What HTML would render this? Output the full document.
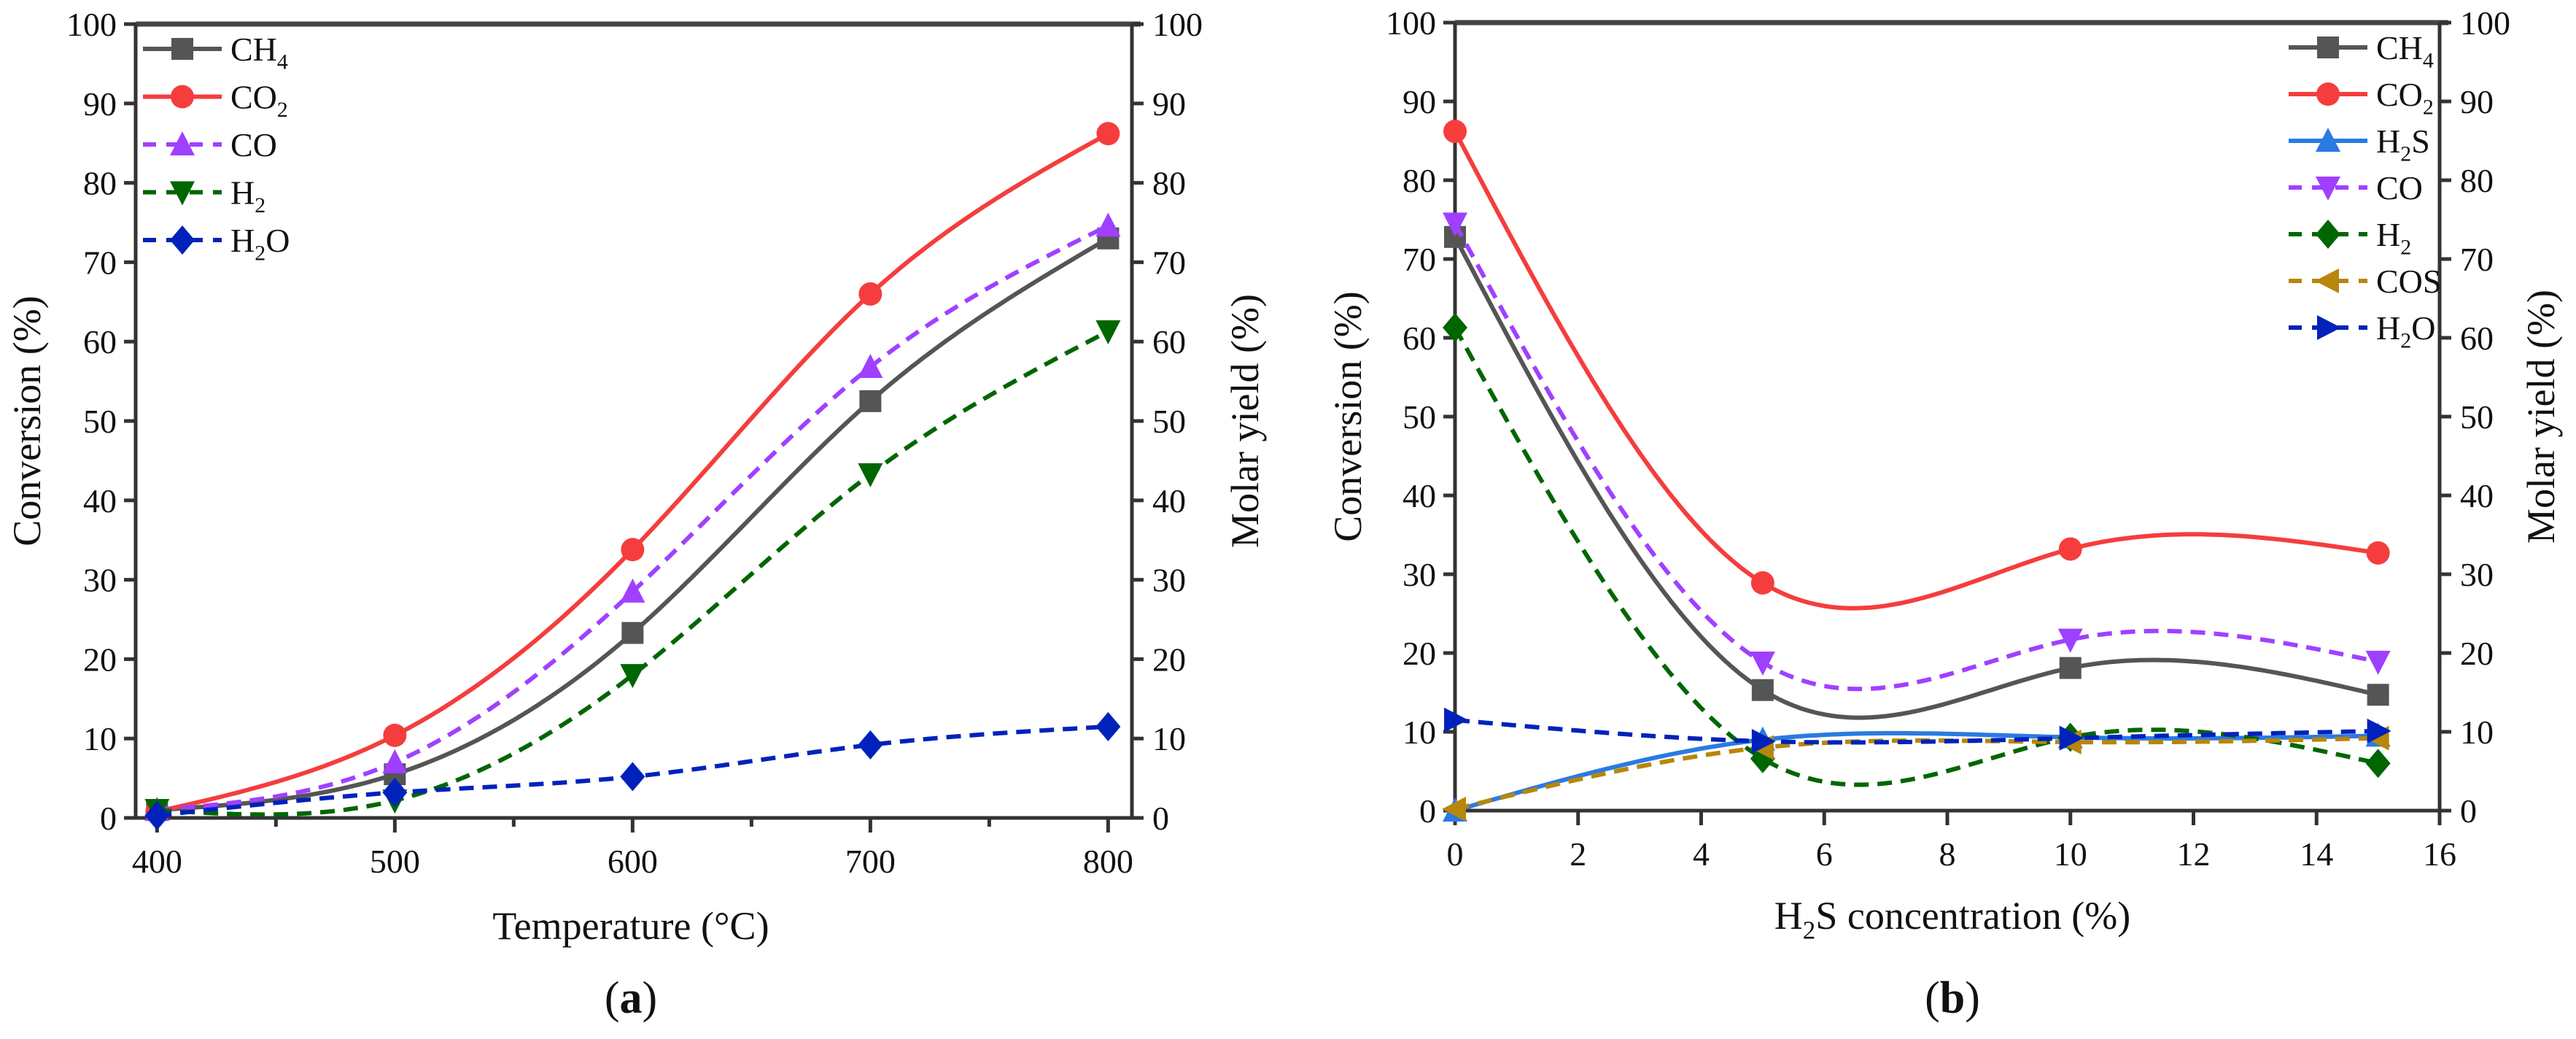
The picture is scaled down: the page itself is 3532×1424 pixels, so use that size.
<!DOCTYPE html>
<html><head><meta charset="utf-8"><style>
html,body{margin:0;padding:0;background:#fff;}
svg{display:block;font-family:"Liberation Serif",serif;}
svg text{font-family:"Liberation Serif",serif;}
</style></head><body>
<svg id="fig" width="3532" height="1424" viewBox="0 0 3532 1424" xmlns="http://www.w3.org/2000/svg" font-family="Liberation Serif, serif"></svg>
<script>
// ---- Panel (a) data ----
const aTemps = [400, 500, 600, 700, 800];
const aCH4 = [1, 5.5, 23.3, 52.5, 73];
const aCO2 = [0.8, 10.4, 33.8, 66, 86.2];
const aCO = [1, 7, 28.5, 56.8, 74.6];
const aH2 = [1, 2.2, 18, 43.3, 61.3];
const aH2O = [0.3, 3.2, 5.2, 9.2, 11.5];
const aXTicks = [400, 500, 600, 700, 800];
const yTicks = [0, 10, 20, 30, 40, 50, 60, 70, 80, 90, 100];
// ---- Panel (b) data ----
const bConc = [0, 5, 10, 15];
const bCH4 = [72.8, 15.3, 18.1, 14.7];
const bCO2 = [86.2, 28.9, 33.2, 32.7];
const bH2S = [0, 9, 9.3, 9.5];
const bCO = [74.5, 18.8, 21.7, 18.9];
const bH2 = [61.3, 6.6, 9.3, 6];
const bCOS = [0.2, 8, 8.7, 9.2];
const bH2O = [11.5, 8.8, 9.2, 10.1];
const bXTicks = [0, 2, 4, 6, 8, 10, 12, 14, 16];

const NS = "http://www.w3.org/2000/svg";
const svg = document.getElementById('fig');
function mk(tag, attrs, parent) {
  const e = document.createElementNS(NS, tag);
  for (const k in attrs) e.setAttribute(k, attrs[k]);
  (parent || svg).appendChild(e);
  return e;
}
function spline(xs, ys) {
  const n = xs.length, h = [], al = [], l = [1], mu = [0], z = [0], c = new Array(n).fill(0), b = [], d = [];
  for (let i = 0; i < n - 1; i++) h.push(xs[i+1] - xs[i]);
  for (let i = 1; i < n - 1; i++) al[i] = 3/h[i]*(ys[i+1]-ys[i]) - 3/h[i-1]*(ys[i]-ys[i-1]);
  for (let i = 1; i < n - 1; i++) { l[i] = 2*(xs[i+1]-xs[i-1]) - h[i-1]*mu[i-1]; mu[i] = h[i]/l[i]; z[i] = (al[i]-h[i-1]*z[i-1])/l[i]; }
  for (let j = n - 2; j >= 0; j--) { c[j] = (j > 0 ? z[j] : 0) - mu[j]*c[j+1]; if (j===0) c[0]=0; b[j] = (ys[j+1]-ys[j])/h[j] - h[j]*(c[j+1]+2*c[j])/3; d[j] = (c[j+1]-c[j])/(3*h[j]); }
  const pts = [];
  for (let i = 0; i < n - 1; i++) for (let k = 0; k <= 40; k++) { const t = h[i]*k/40; pts.push([xs[i]+t, ys[i]+b[i]*t+c[i]*t*t+d[i]*t*t*t]); }
  return pts;
}
function marker(shape, x, y, color, g) {
  const s = 15;
  let e;
  if (shape === 'sq') e = mk('rect', {x: x-s, y: y-s, width: 2*s, height: 2*s, fill: color}, g);
  else if (shape === 'ci') e = mk('circle', {cx: x, cy: y, r: s+1, fill: color}, g);
  else if (shape === 'up') e = mk('polygon', {points: `${x},${y-s-3} ${x+s+2},${y+s} ${x-s-2},${y+s}`, fill: color}, g);
  else if (shape === 'dn') e = mk('polygon', {points: `${x},${y+s+3} ${x+s+2},${y-s} ${x-s-2},${y-s}`, fill: color}, g);
  else if (shape === 'di') e = mk('polygon', {points: `${x},${y-s-5} ${x+s+2},${y} ${x},${y+s+5} ${x-s-2},${y}`, fill: color}, g);
  else if (shape === 'lt') e = mk('polygon', {points: `${x-s-3},${y} ${x+s},${y-s-2} ${x+s},${y+s+2}`, fill: color}, g);
  else if (shape === 'rt') e = mk('polygon', {points: `${x+s+3},${y} ${x-s},${y-s-2} ${x-s},${y+s+2}`, fill: color}, g);
  
  
}
function label(parent, x, y, base, sub, rest, size, anchor) {
  const t = mk('text', {x: x, y: y, 'font-size': size, fill: '#111', 'text-anchor': anchor || 'start'}, parent);
  t.appendChild(document.createTextNode(base));
  if (sub) {
    const ts = mk('tspan', {'font-size': size*0.65, dy: size*0.25}, t); ts.textContent = sub;
    if (rest) { const tr = mk('tspan', {'font-size': size, dy: -size*0.25}, t); tr.textContent = rest; }
  }
  return t;
}
function panel(cfg) {
  const g = mk('g', {});
  
  
  const {L, R, T, B, xmin, xmax} = cfg;
  const X = v => L + (v - xmin) / (xmax - xmin) * (R - L);
  const Y = v => B - v / 100 * (B - T);
  const ax = mk('g', {stroke: '#333', 'stroke-width': 5, fill: 'none'}, g);
  
  
  mk('line', {x1: L, y1: T, x2: R + 12, y2: T, stroke: '#444', 'stroke-width': 7}, ax);
  mk('line', {x1: L - 16, y1: B, x2: R + 12, y2: B}, ax);
  mk('line', {x1: L, y1: T, x2: L, y2: B}, ax);
  mk('line', {x1: R, y1: T, x2: R, y2: B}, ax);
  yTicks.forEach(v => {
    mk('line', {x1: L - 16, y1: Y(v), x2: L, y2: Y(v)}, ax);
    mk('line', {x1: R, y1: Y(v), x2: R + 16, y2: Y(v)}, ax);
    const tl = mk('text', {x: L - 26, y: Y(v) + 16, 'font-size': 46, 'text-anchor': 'end', fill: '#111'}, g);
    tl.textContent = v;
    
    const tr = mk('text', {x: R + 28, y: Y(v) + 16, 'font-size': 46, fill: '#111'}, g);
    tr.textContent = v;
    
  });
  cfg.xticks.forEach(v => {
    mk('line', {x1: X(v), y1: B, x2: X(v), y2: B + 20}, ax);
    const t = mk('text', {x: X(v), y: B + 75, 'font-size': 46, 'text-anchor': 'middle', fill: '#111'}, g);
    t.textContent = v;
    
  });
  (cfg.minor || []).forEach(v => mk('line', {x1: X(v), y1: B, x2: X(v), y2: B + 12}, ax));
  cfg.series.forEach(s => {
    const sg = mk('g', {}, g);
    
    
    const pts = spline(cfg.xs, s.ys).map(p => X(p[0]).toFixed(1) + ',' + Y(p[1]).toFixed(1)).join(' ');
    const pl = mk('polyline', {points: pts, fill: 'none', stroke: s.color, 'stroke-width': 6, 'stroke-dasharray': s.dash ? '20,12' : 'none'}, sg);
    
    
    cfg.xs.forEach((xv, i) => marker(s.mk, X(xv), Y(s.ys[i]), s.color, sg));
  });
  const lg = mk('g', {}, g);
  
  
  cfg.series.forEach((s, i) => {
    const y = cfg.legY + i * cfg.legDy;
    const e = mk('g', {}, lg);
    
    
    mk('line', {x1: cfg.legX, y1: y, x2: cfg.legX + 108, y2: y, stroke: s.color, 'stroke-width': 6, 'stroke-dasharray': s.dash ? '18,14' : 'none'}, e);
    marker(s.mk, cfg.legX + 54, y, s.color, e);
    label(e, cfg.legX + 120, y + 16, s.lab[0], s.lab[1], s.lab[2], 46);
  });
  const xt = cfg.xtitle(g);
  
  const yl = mk('text', {x: 0, y: 0, 'font-size': 54, 'text-anchor': 'middle', fill: '#111', transform: `translate(${cfg.ylx},${(T+B)/2}) rotate(-90)`}, g);
  yl.textContent = 'Conversion (%)';
  
  const yr = mk('text', {x: 0, y: 0, 'font-size': 54, 'text-anchor': 'middle', fill: '#111', transform: `translate(${cfg.yrx},${(T+B)/2}) rotate(-90)`}, g);
  yr.textContent = 'Molar yield (%)';
  
  const pl = mk('text', {x: cfg.capX, y: 1388, 'font-size': 62, 'text-anchor': 'middle', fill: '#111'}, g);
  pl.appendChild(document.createTextNode('('));
  const bb = mk('tspan', {'font-weight': 'bold'}, pl); bb.textContent = cfg.cap;
  pl.appendChild(document.createTextNode(')'));
  
}
panel({name: 'panel-a', cap: 'a', L: 186, R: 1552, T: 33, B: 1121, xmin: 391, xmax: 810, xs: aTemps, xticks: aXTicks,
  minor: [450, 550, 650, 750], legX: 196, legY: 67, legDy: 65.5, ylx: 55, yrx: 1725, capX: 865,
  xtitle: g => { const t = mk('text', {x: 865, y: 1287, 'font-size': 54, 'text-anchor': 'middle', fill: '#111'}, g); t.textContent = 'Temperature (°C)'; return t; },
  series: [
    {id: 'ch4', ys: aCH4, color: '#555555', mk: 'sq', dash: false, lab: ['CH', '4']},
    {id: 'co2', ys: aCO2, color: '#f53d3d', mk: 'ci', dash: false, lab: ['CO', '2']},
    {id: 'co', ys: aCO, color: '#a040ff', mk: 'up', dash: true, lab: ['CO']},
    {id: 'h2', ys: aH2, color: '#006600', mk: 'dn', dash: true, lab: ['H', '2']},
    {id: 'h2o', ys: aH2O, color: '#0022bb', mk: 'di', dash: true, lab: ['H', '2', 'O']}
  ]});
panel({name: 'panel-b', cap: 'b', L: 1995, R: 3345, T: 31, B: 1111, xmin: 0, xmax: 16, xs: bConc, xticks: bXTicks,
  legX: 3138, legY: 65, legDy: 64, ylx: 1866, yrx: 3502, capX: 2677,
  xtitle: g => label(g, 2677, 1273, 'H', '2', 'S concentration (%)', 54, 'middle'),
  series: [
    {id: 'ch4', ys: bCH4, color: '#555555', mk: 'sq', dash: false, lab: ['CH', '4']},
    {id: 'co2', ys: bCO2, color: '#f53d3d', mk: 'ci', dash: false, lab: ['CO', '2']},
    {id: 'h2s', ys: bH2S, color: '#2a7ae2', mk: 'up', dash: false, lab: ['H', '2', 'S']},
    {id: 'co', ys: bCO, color: '#a040ff', mk: 'dn', dash: true, lab: ['CO']},
    {id: 'h2', ys: bH2, color: '#006600', mk: 'di', dash: true, lab: ['H', '2']},
    {id: 'cos', ys: bCOS, color: '#b8860b', mk: 'lt', dash: true, lab: ['COS']},
    {id: 'h2o', ys: bH2O, color: '#0022bb', mk: 'rt', dash: true, lab: ['H', '2', 'O']}
  ]});
</script>
</body></html>
